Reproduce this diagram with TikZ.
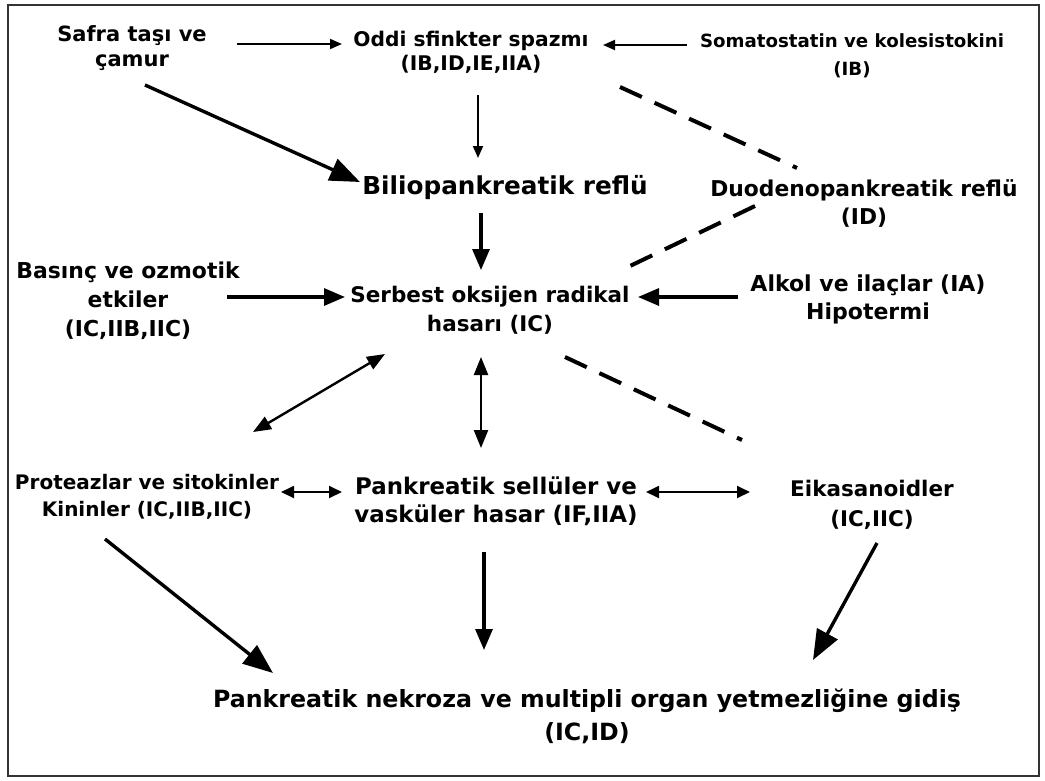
\documentclass[tikz,border=0pt]{standalone}
\usepackage{fontspec}
\setmainfont{DejaVu Sans}
\usepackage{tikz}
\usetikzlibrary{arrows.meta}

\tikzset{
  lbl/.style={align=center, inner sep=0pt, font=\bfseries},
  thinarrow/.style={line width=1.8pt, -{Triangle[length=12pt,width=10pt]}},
  thickarrow/.style={line width=3.2pt, -{Triangle[length=21pt,width=17pt]}},
  bigarrow/.style={line width=3.4pt, -{Triangle[length=30pt,width=23pt]}},
  bothway/.style={line width=2.4pt, {Triangle[length=18pt,width=14pt]}-{Triangle[length=18pt,width=14pt]}},
  thinboth/.style={line width=1.8pt, {Triangle[length=13pt,width=12pt]}-{Triangle[length=13pt,width=12pt]}},
  dashline/.style={line width=4pt, dash pattern=on 24pt off 14pt}
}

\begin{document}
\begin{tikzpicture}[x=1pt, y=-1pt]
    % Fix the page size and draw the frame
    \useasboundingbox (0,0) rectangle (1045,780);
    \draw[line width=2pt, black!80] (8,5) rectangle (1039,776);
    % Top row
    \node[lbl, font=\bfseries\fontsize{21}{25}\selectfont] (safra) at (132,48) {Safra taşı ve\\çamur};
    \node[lbl, font=\bfseries\fontsize{20.2}{24}\selectfont] (oddi) at (471,52) {Oddi sfinkter spazmı\\(IB,ID,IE,IIA)};
    \node[lbl, font=\bfseries\fontsize{18.2}{28}\selectfont] (soma) at (852,56) {Somatostatin ve kolesistokini\\(IB)};
    % Reflux row
    \node[lbl, font=\bfseries\fontsize{24.7}{26}\selectfont] (bilio) at (505,188) {Biliopankreatik reflü};
    \node[lbl, font=\bfseries\fontsize{21.8}{28}\selectfont] (duod) at (864,203) {Duodenopankreatik reflü\\(ID)};
    % Radical row
    \node[lbl, font=\bfseries\fontsize{21.9}{29}\selectfont] (basinc) at (128,301) {Basınç ve ozmotik\\etkiler\\(IC,IIB,IIC)};
    \node[lbl, font=\bfseries\fontsize{21.5}{29}\selectfont] (serb) at (490,310) {Serbest oksijen radikal\\hasarı (IC)};
    \node[lbl, font=\bfseries\fontsize{22}{28}\selectfont] (alkol) at (868,299) {Alkol ve ilaçlar (IA)\\Hipotermi};
    % Damage row
    \node[lbl, font=\bfseries\fontsize{20}{27}\selectfont] (protea) at (147,497) {Proteazlar ve sitokinler\\Kininler (IC,IIB,IIC)};
    \node[lbl, font=\bfseries\fontsize{22.9}{28}\selectfont] (pank) at (496,501) {Pankreatik sellüler ve\\vasküler hasar (IF,IIA)};
    \node[lbl, font=\bfseries\fontsize{21.5}{30}\selectfont] (eika) at (872,505) {Eikasanoidler\\(IC,IIC)};
    % Outcome
    \node[lbl, font=\bfseries\fontsize{23.7}{33}\selectfont] (nekroz) at (587,716) {Pankreatik nekroza ve multipli organ yetmezliğine gidiş\\(IC,ID)};

    % Arrows into Oddi
    \draw[thinarrow] ([shift={(105,-4)}]safra.center) -- ([shift={(-129,-8)}]oddi.center);
    \draw[thinarrow] ([shift={(-165,-11)}]soma.center) -- ([shift={(132,-7)}]oddi.center);
    % Arrows into biliopancreatic reflux
    \draw[bigarrow] ([shift={(13,37)}]safra.center) -- ([shift={(-145,-6)}]bilio.center);
    \draw[thinarrow] ([shift={(7,43)}]oddi.center) -- ([shift={(-27,-30)}]bilio.center);
    \draw[dashline] ([shift={(149,35)}]oddi.center) -- ([shift={(-67,-35)}]duod.center);
    % Arrows into free radical damage
    \draw[thickarrow] ([shift={(-24,25)}]bilio.center) -- ([shift={(-9,-40)}]serb.center);
    \draw[dashline] ([shift={(-109,3)}]duod.center) -- ([shift={(140,-44)}]serb.center);
    \draw[thickarrow] ([shift={(99,-4)}]basinc.center) -- ([shift={(-145,-13)}]serb.center);
    \draw[thickarrow] ([shift={(-130,-2)}]alkol.center) -- ([shift={(148,-13)}]serb.center);
    % Two-way links
    \draw[bothway] ([shift={(-105,44)}]serb.center) -- ([shift={(106,-65)}]protea.center);
    \draw[bothway] ([shift={(-9,47)}]serb.center) -- ([shift={(-15,-53)}]pank.center);
    \draw[dashline] ([shift={(75,47)}]serb.center) -- ([shift={(-130,-65)}]eika.center);
    \draw[thinboth] ([shift={(134,-5)}]protea.center) -- ([shift={(-154,-9)}]pank.center);
    \draw[thinboth] ([shift={(150,-9)}]pank.center) -- ([shift={(-122,-13)}]eika.center);
    % Arrows into the outcome
    \draw[bigarrow] ([shift={(-42,42)}]protea.center) -- ([shift={(-314,-43)}]nekroz.center);
    \draw[thickarrow] ([shift={(-12,51)}]pank.center) -- ([shift={(-103,-66)}]nekroz.center);
    \draw[bigarrow] ([shift={(5,38)}]eika.center) -- ([shift={(226,-56)}]nekroz.center);
\end{tikzpicture}
\end{document}
